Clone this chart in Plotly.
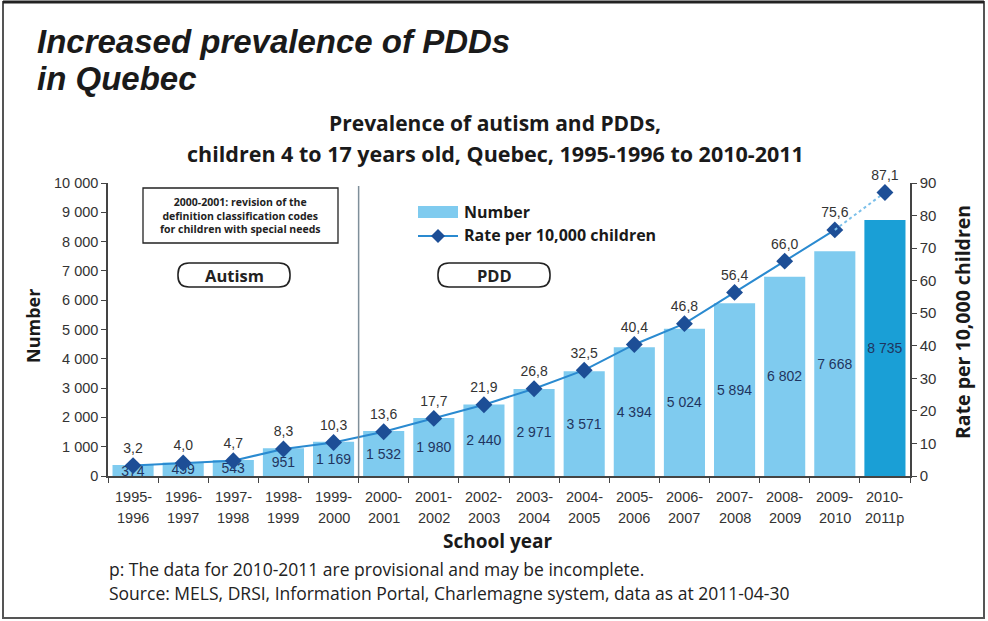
import plotly.graph_objects as go

year_start = ["1995-", "1996-", "1997-", "1998-", "1999-", "2000-", "2001-", "2002-", "2003-",
              "2004-", "2005-", "2006-", "2007-", "2008-", "2009-", "2010-"]
year_end = ["1996", "1997", "1998", "1999", "2000", "2001", "2002", "2003", "2004", "2005",
            "2006", "2007", "2008", "2009", "2010", "2011p"]
years = [a + b for a, b in zip(year_start, year_end)]
numbers = [374, 459, 543, 951, 1169, 1532, 1980, 2440, 2971, 3571, 4394, 5024, 5894, 6802, 7668, 8735]
rates = [3.2, 4.0, 4.7, 8.3, 10.3, 13.6, 17.7, 21.9, 26.8, 32.5, 40.4, 46.8, 56.4, 66.0, 75.6, 87.1]

light = "#7fcbef"
dark = "#1a9fd6"
line_col = "#2a8ad0"
mark_col = "#1d4e96"
bar_colors = [light] * (len(years) - 1) + [dark]

W, H = 988, 621
L, R, T, B = 108, 78, 183, 145
PW, PH = W - L - R, H - T - B


def px(x):
    return (x - L) / PW


def py(y):
    return (H - B - y) / PH


numfont = "Liberation Sans"
fig = go.Figure()
fig.add_trace(go.Bar(
    x=years, y=numbers, name="Number", marker_color=bar_colors, marker_line_width=0,
    texttemplate="%{y:,d}", textposition="inside", insidetextanchor="middle",
    constraintext="none", cliponaxis=False,
    textangle=0, textfont=dict(family=numfont, size=14, color="#1f3560"),
    yaxis="y"))
fig.add_trace(go.Scatter(
    x=years[:-1], y=rates[:-1], name="Rate per 10,000 children", mode="lines+markers+text",
    line=dict(color=line_col, width=2), marker=dict(symbol="diamond", size=13, color=mark_col),
    texttemplate="%{y:.1f}", textposition="top center", cliponaxis=False,
    textfont=dict(family=numfont, size=14, color="#333333"),
    yaxis="y2"))
fig.add_trace(go.Scatter(
    x=years[-2:], y=rates[-2:], mode="lines", showlegend=False,
    line=dict(color="#7cc0ea", width=2, dash="dot"), yaxis="y2"))
fig.add_trace(go.Scatter(
    x=years[-1:], y=rates[-1:], mode="markers+text", showlegend=False, cliponaxis=False,
    marker=dict(symbol="diamond", size=13, color=mark_col),
    texttemplate="%{y:.1f}", textposition="top center",
    textfont=dict(family=numfont, size=14, color="#333333"),
    yaxis="y2"))

ann = []
tf = "Liberation Sans"
sf = "Open Sans"


def txt(x, y, text, size, family=sf, anchor="center", color="#1a1a1a", angle=0):
    ann.append(dict(x=px(x), y=py(y), xref="paper", yref="paper", xanchor=anchor, yanchor="middle",
                    text=text, showarrow=False, textangle=angle,
                    font=dict(family=family, size=size, color=color)))


txt(35, 42, "<b><i>Increased prevalence of PDDs</i></b>", 33, tf, "left")
txt(35, 78, "<b><i>in Quebec</i></b>", 33, tf, "left")
txt(495, 123, "<b>Prevalence of autism and PDDs,</b>", 21)
txt(495, 153, "<b>children 4 to 17 years old, Quebec, 1995-1996 to 2010-2011</b>", 21.5)
txt(240, 215, "<b>2000-2001: revision of the<br>definition classification codes<br>for children with special needs</b>",
    10.5, color="#222222")
txt(234, 275, "<b>Autism</b>", 16.5, color="#222222")
txt(494, 275, "<b>PDD</b>", 16.5, color="#222222")
txt(33, 326, "<b>Number</b>", 18, angle=-90)
txt(962, 322, "<b>Rate per 10,000 children</b>", 19.5, angle=-90)
txt(497, 541, "<b>School year</b>", 19)
txt(107, 569, "p: The data for 2010-2011 are provisional and may be incomplete.", 17.5, anchor="left",
    color="#222222")
txt(107, 593, "Source: MELS, DRSI, Information Portal, Charlemagne system, data as at 2011-04-30", 17.5,
    anchor="left", color="#222222")
# legend texts
txt(462, 212, "<b>Number</b>", 16, anchor="left")
txt(462, 235, "<b>Rate per 10,000 children</b>", 16, anchor="left")

# two-line category labels with the reference's wider line spacing
for cat, a, b in zip(years, year_start, year_end):
    for line, ypix in ((a, 497), (b, 518)):
        ann.append(dict(x=cat, xref="x", y=py(ypix), yref="paper", xanchor="center",
                        yanchor="middle", text=line, showarrow=False,
                        font=dict(family=numfont, size=14.5, color="#333333")))


def pill(x0, x1, y0, y1, r=11):
    X0, X1 = px(x0), px(x1)
    Y0, Y1 = py(y0), py(y1)
    rx, ry = r / PW, r / PH
    return (f"M {X0+rx},{Y0} L {X1-rx},{Y0} Q {X1},{Y0} {X1},{Y0-ry} L {X1},{Y1+ry} "
            f"Q {X1},{Y1} {X1-rx},{Y1} L {X0+rx},{Y1} Q {X0},{Y1} {X0},{Y1+ry} "
            f"L {X0},{Y0-ry} Q {X0},{Y0} {X0+rx},{Y0} Z")


def diamond(cx, cy, h=7):
    return (f"M {px(cx)},{py(cy-h)} L {px(cx+h)},{py(cy)} L {px(cx)},{py(cy+h)} "
            f"L {px(cx-h)},{py(cy)} Z")


shapes = [
    dict(type="rect", xref="paper", yref="paper", x0=px(3), x1=px(984), y0=py(618), y1=py(2),
         line=dict(color="#555555", width=2)),
    dict(type="line", xref="paper", yref="paper", x0=px(3), x1=px(984), y0=py(2), y1=py(2),
         line=dict(color="#222222", width=3)),
    dict(type="rect", xref="paper", yref="paper", x0=px(143), x1=px(338), y0=py(243), y1=py(188),
         line=dict(color="#222222", width=1.3)),
    dict(type="path", xref="paper", yref="paper", path=pill(178, 290, 263, 287),
         line=dict(color="#222222", width=1.6)),
    dict(type="path", xref="paper", yref="paper", path=pill(438, 550, 263, 287),
         line=dict(color="#222222", width=1.6)),
    dict(type="line", xref="x", yref="paper", x0=4.5, x1=4.5, y0=0, y1=py(186),
         line=dict(color="#7f8f9a", width=1.5)),
    # manual legend symbols
    dict(type="rect", xref="paper", yref="paper", x0=px(418), x1=px(458), y0=py(218), y1=py(206),
         fillcolor=light, line=dict(width=0)),
    dict(type="line", xref="paper", yref="paper", x0=px(418), x1=px(458), y0=py(236), y1=py(236),
         line=dict(color=line_col, width=2)),
    dict(type="path", xref="paper", yref="paper", path=diamond(438, 236),
         fillcolor=mark_col, line=dict(width=0)),
]

axcol = "#444444"
fig.update_layout(
    width=W, height=H, margin=dict(l=L, r=R, t=T, b=B, autoexpand=False),
    paper_bgcolor="white", plot_bgcolor="white",
    separators=", ",
    bargap=0.18,
    showlegend=False,
    xaxis=dict(type="category", range=[-0.5, len(years) - 0.5], showline=True, linecolor=axcol,
               linewidth=1.5, ticks="outside", tickson="boundaries", ticklen=5, tickcolor=axcol,
               showticklabels=False,
               showgrid=False, zeroline=False, automargin=False),
    yaxis=dict(range=[0, 10000], dtick=1000, tickformat=",d", showline=True, linecolor=axcol,
               linewidth=1.5, ticks="outside", ticklen=5, tickcolor=axcol,
               tickfont=dict(family=numfont, size=14.5, color="#333333"),
               showgrid=False, zeroline=False, automargin=False),
    yaxis2=dict(range=[0, 90], dtick=10, overlaying="y", side="right", showline=True,
                linecolor=axcol, linewidth=1.5, ticks="outside", ticklen=5, tickcolor=axcol,
                tickfont=dict(family=numfont, size=15, color="#333333"),
                showgrid=False, zeroline=False, automargin=False),
    yaxis3=dict(range=[0, 10000], dtick=1000, overlaying="y", side="left", anchor="x",
                ticks="inside", ticklen=5, tickcolor=axcol, showticklabels=False,
                showline=False, showgrid=False, zeroline=False, automargin=False),
    yaxis4=dict(range=[0, 90], dtick=10, overlaying="y", side="right", anchor="x",
                ticks="inside", ticklen=5, tickcolor=axcol, showticklabels=False,
                showline=False, showgrid=False, zeroline=False, automargin=False),
    annotations=ann,
    shapes=shapes,
)

fig.write_html("out.html", config={"displayModeBar": False},
               post_script="document.body.style.margin='0';")
